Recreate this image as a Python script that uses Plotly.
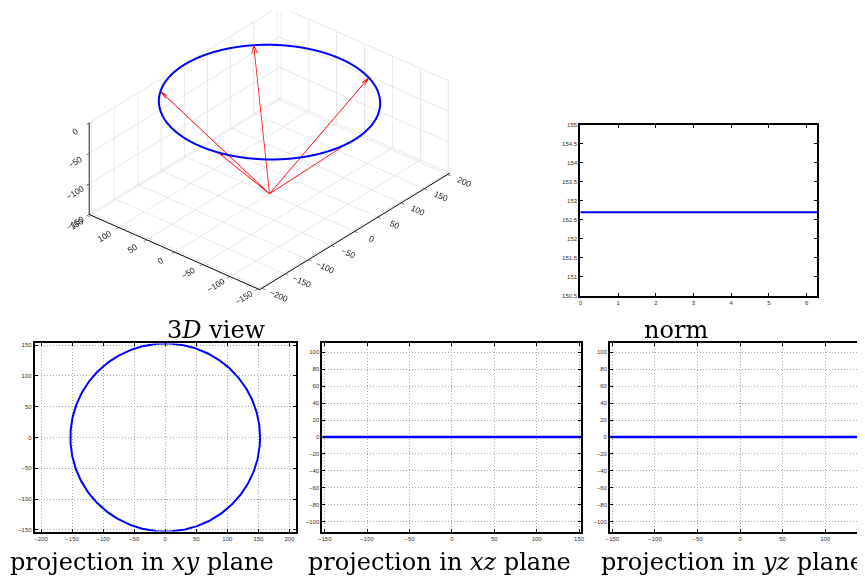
import numpy as np
import plotly.graph_objects as go

# curve: circle of radius R at height Z0, cone apex below
radius = 152.7
z_level = 0.0
apex = [0.0, 0.0, -150.0]
arrow_angles_deg = [48, 120, 192, 264, 336]
norm_t = [0.0, 2 * np.pi]
norm_vals = [152.7, 152.7]

x_ticks_3d = [-200, -150, -100, -50, 0, 50, 100, 150, 200]
y_ticks_3d = [-150, -100, -50, 0, 50, 100, 150]
z_ticks_3d = [-150, -100, -50, 0]
norm_yticks = [150.5, 151, 151.5, 152, 152.5, 153, 153.5, 154, 154.5, 155]

t = np.linspace(0, 2 * np.pi, 361)
cx = radius * np.cos(t)
cy = radius * np.sin(t)
cz = np.full_like(t, z_level)

BLUE = '#0000ff'
RED = '#ff0000'
TICKFONT = dict(family='Liberation Sans, Arial', size=6, color='#333333')
SERIF = 'DejaVu Serif, serif'

fig = go.Figure()

# 3D view
fig.add_trace(go.Scatter3d(x=cx, y=cy, z=cz, mode='lines',
                           line=dict(color=BLUE, width=4), scene='scene',
                           showlegend=False))
for a in arrow_angles_deg:
    tip = np.array([radius * np.cos(np.radians(a)), radius * np.sin(np.radians(a)), z_level])
    base = np.array(apex)
    d = (tip - base) / np.linalg.norm(tip - base)
    perp = np.array([-d[1], d[0], 0.0])
    perp /= np.linalg.norm(perp)
    b1 = tip - 12 * d + 4 * perp
    b2 = tip - 12 * d - 4 * perp
    xs = [base[0], tip[0], None, b1[0], tip[0], b2[0]]
    ys = [base[1], tip[1], None, b1[1], tip[1], b2[1]]
    zs = [base[2], tip[2], None, b1[2], tip[2], b2[2]]
    fig.add_trace(go.Scatter3d(x=xs, y=ys, z=zs, mode='lines',
                               line=dict(color=RED, width=1.5),
                               scene='scene', showlegend=False))

ax3d = dict(showbackground=False, gridcolor='#cfcfcf', gridwidth=1,
            showline=True, linecolor='black', linewidth=2, zeroline=False,
            ticks='outside', tickcolor='black', ticklen=4, title=dict(text=''),
            tickfont=dict(family='Liberation Sans, Arial', size=10, color='#222'),
            showspikes=False)
fig.update_layout(scene=dict(
    domain=dict(x=[0.0, 0.6], y=[0.485, 1.0]),
    xaxis=dict(ax3d, range=[-205, 205], tickvals=x_ticks_3d),
    yaxis=dict(ax3d, range=[-153, 153], tickvals=y_ticks_3d),
    zaxis=dict(ax3d, range=[-150, 0], tickvals=z_ticks_3d),
    aspectmode='manual', aspectratio=dict(x=2.0, y=1.52, z=0.73),
    camera=dict(eye=dict(x=-1.98, y=-1.68, z=1.5), center=dict(x=0, y=0, z=-0.08),
                projection=dict(type='orthographic')),
))

# norm
fig.add_trace(go.Scatter(x=norm_t, y=norm_vals, mode='lines',
                         line=dict(color=BLUE, width=2), xaxis='x', yaxis='y',
                         showlegend=False))

# projections
fig.add_trace(go.Scatter(x=cx, y=cy, mode='lines', line=dict(color=BLUE, width=2),
                         xaxis='x2', yaxis='y2', showlegend=False))
fig.add_trace(go.Scatter(x=cx, y=cz, mode='lines', line=dict(color=BLUE, width=2.5),
                         xaxis='x3', yaxis='y3', showlegend=False))
fig.add_trace(go.Scatter(x=cy, y=cz, mode='lines', line=dict(color=BLUE, width=2.5),
                         xaxis='x4', yaxis='y4', showlegend=False))

ax2d = dict(showline=True, linecolor='black', linewidth=2, mirror='ticks',
            ticks='inside', ticklen=3, tickcolor='black', zeroline=False,
            tickfont=TICKFONT, fixedrange=True)
grid = dict(showgrid=True, gridcolor='#a8a8a8', griddash='1px,2px', gridwidth=1)

fig.update_layout(
    xaxis=dict(ax2d, domain=[0.6624, 0.9387], range=[0, 2 * np.pi], tickvals=list(range(7)),
               anchor='y', showgrid=False),
    yaxis=dict(ax2d, domain=[0.5, 0.8003], range=[150.5, 155], tickvals=norm_yticks,
               anchor='x', showgrid=False),
    xaxis2=dict(ax2d, **grid, domain=[0.0266, 0.3306], range=[-210, 210],
                tickvals=x_ticks_3d, anchor='y2'),
    yaxis2=dict(ax2d, **grid, domain=[0.0868, 0.4167], range=[-152.7, 152.7],
                tickvals=y_ticks_3d, anchor='x2'),
    xaxis3=dict(ax2d, **grid, domain=[0.3618, 0.6636], range=[-152.7, 152.7],
                tickvals=[-150, -100, -50, 0, 50, 100, 150], anchor='y3'),
    yaxis3=dict(ax2d, **grid, domain=[0.0868, 0.4184], range=[-111.5, 111.5],
                tickvals=list(range(-100, 101, 20)), anchor='x3'),
    xaxis4=dict(ax2d, **grid, domain=[0.6971, 1.0], range=[-152.7, 152.7],
                tickvals=[-150, -100, -50, 0, 50, 100, 150], anchor='y4'),
    yaxis4=dict(ax2d, **grid, domain=[0.0868, 0.4184], range=[-111.5, 111.5],
                tickvals=list(range(-100, 101, 20)), anchor='x4'),
)

titles = [
    ('3<i>D</i> view', 206, 322),
    ('norm', 669, 322),
    ('projection in <i>xy</i> plane', 131, 557),
    ('projection in <i>xz</i> plane', 431, 557),
    ('projection in <i>yz</i> plane', 726, 557),
]
for text, px, py in titles:
    fig.add_annotation(text=text, x=px / 865, y=1 - py / 576, xref='paper', yref='paper',
                       showarrow=False, xanchor='center', yanchor='middle',
                       font=dict(family=SERIF, size=24, color='black'))

fig.update_layout(width=865, height=576, margin=dict(l=0, r=0, t=0, b=0),
                  paper_bgcolor='white', plot_bgcolor='white', showlegend=False)

fig.write_html('out.html')
